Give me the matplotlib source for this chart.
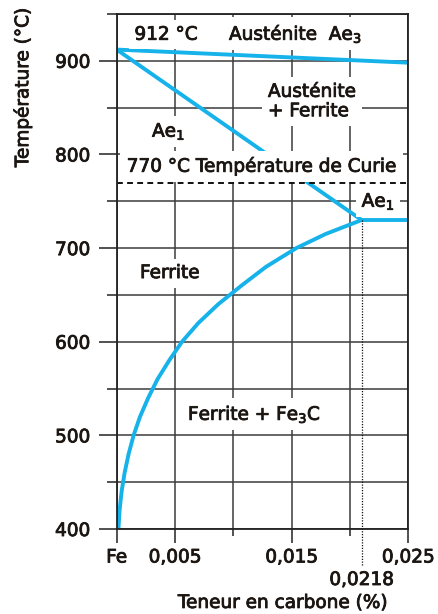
import matplotlib
matplotlib.use('Agg')
import matplotlib.pyplot as plt
import matplotlib.patheffects as pe

# courbe de solubilité (ferrite / ferrite + Fe3C)
solvus_temp = [400, 420, 440, 460, 480, 500, 520, 540, 560, 580, 600,
               620, 640, 660, 680, 700, 715, 730]
solvus_carbon = [0.00015, 0.00025, 0.00042, 0.00068, 0.00102, 0.00145, 0.0020, 0.0027,
                 0.0035, 0.0045, 0.0056, 0.0070, 0.0087, 0.0107, 0.0128, 0.0154, 0.0179, 0.0210]

ae3_carbon = [0.0, 0.025]
ae3_temp = [912, 898]
ae1_carbon = [0.0, 0.0210]
ae1_temp = [912, 730]
eutectoid_carbon = [0.0210, 0.025]
eutectoid_temp = [730, 730]
curie_temp = 770
eutectoid_x = 0.0210

x_major = [0.0, 0.005, 0.015, 0.025]
x_major_labels = ['Fe', '0,005', '0,015', '0,025']
x_minor = [0.010, 0.020]
y_major = [400, 500, 600, 700, 800, 900]
y_minor = [450, 550, 650, 750, 850, 950]

blue = '#16b2ea'
ink = '#1c1612'
fs = 13.3
heavy = [pe.withStroke(linewidth=0.6, foreground=ink)]

plt.rcParams['font.family'] = 'DejaVu Sans'
plt.rcParams['text.color'] = ink

fig = plt.figure(figsize=(4.38, 6.14), dpi=100)
ax = fig.add_axes([0.2664, 0.1384, 0.6658, 0.8388])

ax.plot(ae3_carbon, ae3_temp, color=blue, lw=2.8, solid_capstyle='butt', zorder=2)
ax.plot(ae1_carbon, ae1_temp, color=blue, lw=2.8, solid_capstyle='round', zorder=2)
ax.plot(eutectoid_carbon, eutectoid_temp, color=blue, lw=2.8, solid_capstyle='butt', zorder=2)
ax.plot(solvus_carbon, solvus_temp, color=blue, lw=2.8, solid_joinstyle='round',
        solid_capstyle='butt', zorder=2)

ax.axhline(curie_temp, color='#111111', lw=1.4, ls=(0, (3, 2.2)), zorder=2)
ax.plot([eutectoid_x, eutectoid_x], [362, 730], color='#111111', lw=0.9,
        ls=(0, (1, 1.2)), clip_on=False, zorder=2)

box = dict(facecolor='white', edgecolor='none', boxstyle='square,pad=0.3')
labels = [
    (0.00423, 922.5, '912 °C', 'center', 'baseline'),
    (0.00963, 922.5, 'Austénite  Ae$_3$', 'left', 'baseline'),
    (0.01297, 856.5, 'Austénite\n+ Ferrite', 'left', 'center'),
    (0.00303, 819, 'Ae$_1$', 'left', 'baseline'),
    (0.0210, 744.2, 'Ae$_1$', 'left', 'baseline'),
    (0.0020, 668, 'Ferrite', 'left', 'baseline'),
    (0.00611, 516.6, 'Ferrite + Fe$_3$C', 'left', 'baseline'),
]
for x, y, s, ha, va in labels:
    ax.text(x, y, s, ha=ha, va=va, fontsize=fs, linespacing=1.1, bbox=box,
            path_effects=heavy, zorder=2.3)
ax.text(0.00086, 781.5, '770 °C Température de Curie', ha='left', va='baseline', fontsize=fs,
        bbox=dict(facecolor='white', edgecolor='none', boxstyle='square,pad=0.35'),
        path_effects=heavy, zorder=2.3)

ax.annotate('0,0218', xy=(eutectoid_x, 0), xycoords=('data', 'axes fraction'),
            xytext=(0, -36.7), textcoords='offset points', ha='center', va='center',
            fontsize=fs, path_effects=heavy)

ax.set_xlim(0, 0.025)
ax.set_ylim(400, 950)
ax.set_xticks(x_major)
ax.set_xticklabels(x_major_labels)
ax.set_xticks(x_minor, minor=True)
ax.set_yticks(y_major)
ax.set_yticks(y_minor, minor=True)

ax.tick_params(axis='x', which='major', length=10, width=1.1, pad=4, labelsize=fs, colors='#222222', labelcolor=ink)
ax.tick_params(axis='x', which='minor', length=5, width=1.1, colors='#222222')
ax.tick_params(axis='y', which='major', length=13, width=1.1, pad=6, labelsize=fs, colors='#222222', labelcolor=ink)
ax.tick_params(axis='y', which='minor', length=7, width=1.1, colors='#222222')
for lab in ax.get_xticklabels() + ax.get_yticklabels():
    lab.set_path_effects(heavy)

ax.set_axisbelow(True)
ax.grid(True, which='both', color='#3c3c3c', lw=1.1)
for s in ax.spines.values():
    s.set_color('#222222')
    s.set_linewidth(1.3)

fig.text(0.0525, 0.858, 'Température (°C)', rotation=90, ha='center', va='center',
         fontsize=fs, path_effects=heavy)
fig.text(0.646, 0.018, 'Teneur en carbone (%)', ha='center', va='center',
         fontsize=fs, path_effects=heavy)

fig.savefig('out.png', dpi=100)
